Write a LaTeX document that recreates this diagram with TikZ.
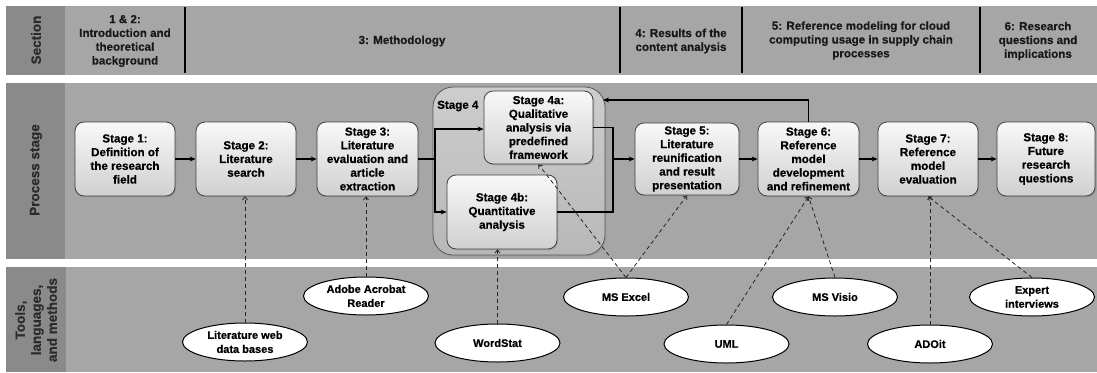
\documentclass[tikz,border=0pt]{standalone}
\usepackage{fontspec}
\setmainfont{Liberation Sans}[BoldFeatures={FakeBold=0.6}]
\usetikzlibrary{shapes.geometric,shadows,arrows.meta,calc}

\definecolor{labelgray}{HTML}{8A8A8A}
\definecolor{bandgray}{HTML}{A6A6A6}
\definecolor{boxtop}{HTML}{F8F8F8}
\definecolor{boxbot}{HTML}{D0D0D0}
\definecolor{contop}{HTML}{CDCDCD}
\definecolor{conbot}{HTML}{B8B8B8}
\definecolor{vtext}{HTML}{2B2B2B}

\newcommand\stagefont{\bfseries\fontsize{11.6}{13.7}\selectfont}
\newcommand\secfont{\bfseries\fontsize{11.6}{13.8}\selectfont}
\newcommand\ellfont{\bfseries\fontsize{11}{14}\selectfont}
\newcommand\vlabfont{\bfseries\fontsize{13.5}{16}\selectfont}

\begin{document}
\begin{tikzpicture}[x=1pt,y=-1pt,
  labelcell/.style={fill=labelgray, draw=none},
  bandcell/.style={fill=bandgray, draw=none},
  vlabel/.style={rotate=90, font=\vlabfont, text=vtext, align=center, inner sep=0pt},
  sectext/.style={font=\secfont, align=center, text=black!90, inner sep=0pt},
  divider/.style={line width=1.8pt, black},
  stagebox/.style={draw=black!75, line width=0.8pt, rounded corners=9pt,
    top color=boxtop, bottom color=boxbot, minimum width=100pt, minimum height=74pt,
    align=center, inner sep=0pt, font=\stagefont,
    drop shadow={shadow xshift=1.3pt, shadow yshift=-1.3pt, opacity=0.35}},
  groupbox/.style={draw=black!65, line width=0.8pt, rounded corners=20pt,
    top color=contop, bottom color=conbot, inner sep=0pt,
    drop shadow={shadow xshift=1.3pt, shadow yshift=-1.3pt, opacity=0.25}},
  toolnode/.style={ellipse, draw=black, line width=1pt, fill=white,
    minimum width=125pt, minimum height=38pt, inner sep=0pt,
    align=center, font=\ellfont},
  flowline/.style={line width=1.4pt, black, line join=miter},
  flow/.style={flowline, -{Stealth[length=6pt,width=5pt]}},
  usage/.style={line width=0.8pt, black!85, dash pattern=on 4pt off 3pt,
    -{Straight Barb[length=3pt,width=5pt]}}
]
\useasboundingbox (0,0) rectangle (1097,372);

% ---- bands ----
\fill[labelcell] (6,6) rectangle (65,75);
\fill[bandcell] (65,6) rectangle (1097,75);
\fill[labelcell] (6,83) rectangle (65,259);
\fill[bandcell] (65,83) rectangle (1097,259);
\fill[labelcell] (6,267) rectangle (66,372);
\fill[bandcell] (66,267) rectangle (1097,372);

\node[vlabel] (lsec) at (36,40) {Section};
\node[vlabel] (lproc) at (36,170) {Process stage};
\node[vlabel] (ltool) at (36,320) {Tools,\\languages,\\and methods};

% ---- section row ----
\draw[divider] (185,7) -- (185,73);
\draw[divider] (620,7) -- (620,73);
\draw[divider] (742,7) -- (742,73);
\draw[divider] (980,7) -- (980,73);

\node[sectext] (sec1) at (125,41) {1 \& 2:\\Introduction and\\theoretical\\background};
\node[sectext] (sec3) at (402,41) {3: Methodology};
\node[sectext] (sec4) at (681,41) {4: Results of the\\content analysis};
\node[sectext] (sec5) at (861,40.5) {5: Reference modeling for cloud\\computing usage in supply chain\\processes};
\node[sectext] (sec6) at (1038,41) {6: Research\\questions and\\implications};

% ---- stage 4 group ----
\node[groupbox, minimum width=172pt, minimum height=168pt] (s4) at (519,171) {};
\node[anchor=west, font=\stagefont, inner sep=0pt] (s4lab) at (437,106) {Stage 4};

% ---- stages ----
\node[stagebox] (s1) at (125,159) {Stage 1:\\Definition of\\the research\\field};
\node[stagebox] (s2) at (246,159) {Stage 2:\\Literature\\search};
\node[stagebox, minimum width=101pt] (s3) at (367.5,159) {Stage 3:\\Literature\\evaluation and\\article\\extraction};
\node[stagebox, minimum width=109pt, minimum height=73pt] (s4a) at (538.5,127.5) {Stage 4a:\\Qualitative\\analysis via\\predefined\\framework};
\node[stagebox, minimum width=110pt] (s4b) at (502,212) {Stage 4b:\\Quantitative\\analysis};
\node[stagebox, minimum width=104pt, minimum height=72pt] (s5) at (687,159) {Stage 5:\\Literature\\reunification\\and result\\presentation};
\node[stagebox, minimum width=101pt] (s6) at (808.5,159) {Stage 6:\\Reference\\model\\development\\and refinement};
\node[stagebox] (s7) at (928,159) {Stage 7:\\Reference\\model\\evaluation};
\node[stagebox, minimum width=98pt] (s8) at (1046,159) {Stage 8:\\Future\\research\\questions};

% ---- process flow ----
\draw[flow] (s1) -- (s2);
\draw[flow] (s2) -- (s3);
\coordinate (split) at (435,159);
\draw[flowline] (s3.east) -- (split);
\draw[flow] (split) |- ($(s4a.west)+(0,1.5)$);
\draw[flow] (split) |- (s4b.west);
\coordinate (merge) at (613,159);
\draw[flowline] (s4a.east) -| (merge) |- (s4b.east);
\draw[flow] (merge) -- (s5.west);
\draw[flow] (s5) -- (s6);
\draw[flow] (s6) -- (s7);
\draw[flow] (s7) -- (s8);
\coordinate (back) at (603,100);
\draw[flow] (s6.north) |- (back);

% ---- tools ----
\node[toolnode] (litweb) at (245,342) {Literature web\\data bases};
\node[toolnode] (adobe) at (366,296) {Adobe Acrobat\\Reader};
\node[toolnode] (wordstat) at (497.5,343) {WordStat};
\node[toolnode] (excel) at (626,297) {MS Excel};
\node[toolnode] (uml) at (726.5,344) {UML};
\node[toolnode] (visio) at (835,297) {MS Visio};
\node[toolnode] (adoit) at (930,344) {ADOit};
\node[toolnode] (expert) at (1032,297) {Expert\\interviews};

% ---- tool usage ----
\draw[usage] (litweb.north) -- (litweb.north |- s2.south);
\draw[usage] (adobe.north) -- (adobe.north |- s3.south);
\draw[usage] (wordstat.north) -- (wordstat.north |- s4b.south);
\draw[usage] (excel.north) -- (s4a.south);
\draw[usage] (excel.north) -- (s5.south);
\draw[usage] (uml.north) -- (s6.south);
\draw[usage] (visio.north) -- (s6.south);
\draw[usage] (adoit.north) -- (adoit.north |- s7.south);
\draw[usage] (expert.north) -- (s7.south);
\end{tikzpicture}
\end{document}
